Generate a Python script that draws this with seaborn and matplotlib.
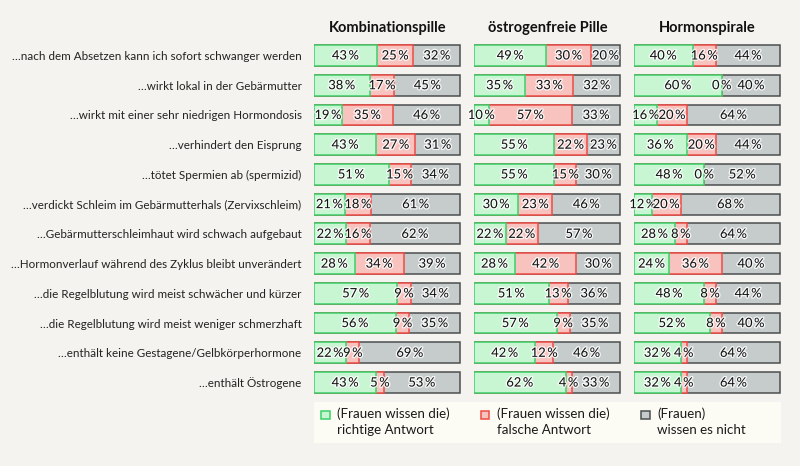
import numpy as np
import pandas as pd
import seaborn as sns
import matplotlib.pyplot as plt
import matplotlib.patheffects as pe
from matplotlib.patches import Rectangle

sns.set_style("white")
plt.rcParams['font.family'] = ['Lato', 'DejaVu Sans']

statements = [
    "…nach dem Absetzen kann ich sofort schwanger werden",
    "…wirkt lokal in der Gebärmutter",
    "…wirkt mit einer sehr niedrigen Hormondosis",
    "…verhindert den Eisprung",
    "…tötet Spermien ab (spermizid)",
    "…verdickt Schleim im Gebärmutterhals (Zervixschleim)",
    "…Gebärmutterschleimhaut wird schwach aufgebaut",
    "…Hormonverlauf während des Zyklus bleibt unverändert",
    "…die Regelblutung wird meist schwächer und kürzer",
    "…die Regelblutung wird meist weniger schmerzhaft",
    "…enthält keine Gestagene/Gelbkörperhormone",
    "…enthält Östrogene",
]

methods = ["Kombinationspille", "östrogenfreie Pille", "Hormonspirale"]

# (Frauen wissen die) richtige Antwort
richtig = {
    "Kombinationspille":   [43, 38, 19, 43, 51, 21, 22, 28, 57, 56, 22, 43],
    "östrogenfreie Pille": [49, 35, 10, 55, 55, 30, 22, 28, 51, 57, 42, 62],
    "Hormonspirale":       [40, 60, 16, 36, 48, 12, 28, 24, 48, 52, 32, 32],
}
# (Frauen wissen die) falsche Antwort
falsch = {
    "Kombinationspille":   [25, 17, 35, 27, 15, 18, 16, 34, 9, 9, 9, 5],
    "östrogenfreie Pille": [30, 33, 57, 22, 15, 23, 22, 42, 13, 9, 12, 4],
    "Hormonspirale":       [16, 0, 20, 20, 0, 20, 8, 36, 8, 8, 4, 4],
}
# (Frauen) wissen es nicht
weiss_nicht = {
    "Kombinationspille":   [32, 45, 46, 31, 34, 61, 62, 39, 34, 35, 69, 53],
    "östrogenfreie Pille": [20, 32, 33, 23, 30, 46, 57, 30, 36, 35, 46, 33],
    "Hormonspirale":       [44, 40, 64, 44, 52, 68, 64, 40, 44, 40, 64, 64],
}

legend_labels = ["(Frauen wissen die)\nrichtige Antwort",
                 "(Frauen wissen die)\nfalsche Antwort",
                 "(Frauen)\nwissen es nicht"]

bg = "#f4f3ef"
fills = ["#c8f6d2", "#f8c3bf", "#c6cbcb"]
edges = ["#3bcf6a", "#ee4b45", "#4b4f4f"]

fig = plt.figure(figsize=(8, 4.66), dpi=100, facecolor=bg)

W, H = 800, 466
lefts = [314, 474, 634]
top_px, bot_px = 40.6, 397.4

for k, m in enumerate(methods):
    ax = fig.add_axes([lefts[k] / W, 1 - bot_px / H, 147 / W, (bot_px - top_px) / H])
    ax.set_facecolor("none")
    g = np.array(richtig[m], float)
    f = np.array(falsch[m], float)
    n = np.array(weiss_nicht[m], float)
    tot = g + f + n
    g, f, n = g / tot * 100, f / tot * 100, n / tot * 100
    df = pd.DataFrame({"Aussage": statements, "g": g, "gf": g + f, "all": g + f + n})
    # stacked bars drawn back to front from cumulative sums
    for col, fc, ec in [("all", fills[2], edges[2]), ("gf", fills[1], edges[1]), ("g", fills[0], edges[0])]:
        sns.barplot(data=df, x=col, y="Aussage", order=statements, orient="h",
                    color=fc, edgecolor=ec, linewidth=1.1, width=0.7, saturation=1, ax=ax)
    # percent labels
    for i in range(len(statements)):
        segs = [(0, g[i], richtig[m][i]), (g[i], g[i] + f[i], falsch[m][i]),
                (g[i] + f[i], 100, weiss_nicht[m][i])]
        for a, b, v in segs:
            t = ax.text((a + b) / 2, i, f"{v}\u2009%", ha="center", va="center",
                        fontsize=9.3, color="#111111")
            t.set_path_effects([pe.withStroke(linewidth=2, foreground="white", alpha=0.8)])
    ax.set_xlim(0, 100.5)
    ax.set_ylim(11.5, -0.5)
    ax.set_xlabel("")
    ax.set_ylabel("")
    ax.set_xticks([])
    for s in ax.spines.values():
        s.set_visible(False)
    ax.set_title(m, fontsize=10.5, fontweight="bold", pad=6, color="#111111")
    if k == 0:
        ax.tick_params(axis="y", length=0, pad=9, labelsize=8.35, labelcolor="#222222")
    else:
        ax.set_yticks([])

# legend box
fig.patches.append(Rectangle((314 / W, 1 - 443 / H), 467 / W, 41 / H,
                             transform=fig.transFigure, facecolor="#fdfcf4",
                             edgecolor="none", zorder=0))
sq_x = [321, 481, 641]
for j in range(3):
    fig.patches.append(Rectangle((sq_x[j] / W, 1 - 419 / H), 8.5 / W, 8.5 / H,
                                 transform=fig.transFigure, facecolor=fills[j],
                                 edgecolor=edges[j], linewidth=1.1))
    fig.text((sq_x[j] + 16) / W, 1 - 407 / H, legend_labels[j], ha="left", va="top",
             fontsize=9.6, color="#1a1a1a", linespacing=1.45)

plt.savefig("out.png", dpi=100, facecolor=bg)
